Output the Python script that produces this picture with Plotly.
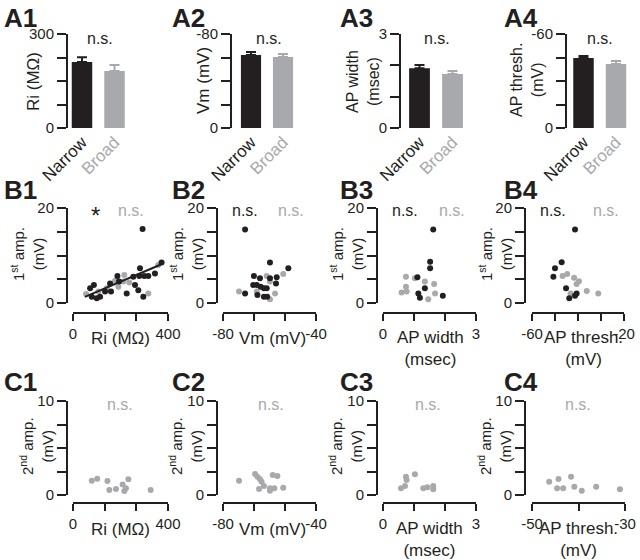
import plotly.graph_objects as go

W, H = 640, 560
BLACK = '#231f20'
GRAY = '#a7a9ac'
FONT = 'Liberation Sans, Arial, sans-serif'

# ---- A: group means (Narrow, Broad) with SEM
groups = ['Narrow', 'Broad']
ri_mean = [211, 182]
ri_sem = [15, 19]
vm_mean = [-62.1, -60.4]
vm_sem = [2.6, 2.6]
apw_mean = [1.91, 1.72]
apw_sem = [0.10, 0.10]
apt_mean = [-44.7, -40.9]
apt_sem = [1.3, 1.9]

# ---- B: 1st amp. (mV) vs cell property; narrow = black, broad = gray
b1_narrow_x = [293, 72, 88, 79, 100, 114, 135, 156, 160, 187, 194, 226, 254, 261, 275, 279, 282, 296, 300, 317, 345, 373]
b1_narrow_y = [15.6, 3.1, 3.8, 1.3, 1.0, 1.3, 2.4, 4.1, 2.4, 5.7, 4.5, 2.0, 5.5, 3.8, 2.7, 5.7, 7.3, 1.3, 5.7, 5.7, 6.2, 8.5]
b1_broad_x = [55, 107, 142, 177, 191, 212, 216, 237, 317, 359]
b1_broad_y = [1.9, 2.4, 3.1, 4.7, 3.4, 4.5, 5.9, 4.3, 2.0, 8.0]
b1_fit_x = [50, 370]
b1_fit_y = [1.3, 8.1]

b2_narrow_x = [-70.5, -70.5, -66.7, -64.1, -67.0, -65.5, -63.8, -62.4, -61.2, -65.2, -62.4, -61.0, -59.8, -59.8, -56.9, -57.2, -51.9]
b2_narrow_y = [15.5, 2.0, 5.7, 5.2, 3.8, 3.8, 3.4, 3.1, 3.1, 1.7, 1.3, 1.3, 5.2, 8.5, 5.4, 4.1, 7.3]
b2_broad_x = [-73.1, -65.5, -59.8, -57.6, -59.8, -54.1, -61.2]
b2_broad_y = [2.4, 2.4, 4.5, 2.0, 0.8, 6.1, 5.7]

b3_narrow_x = [1.62, 1.52, 1.52, 1.11, 1.35, 1.14, 1.19, 1.93]
b3_narrow_y = [15.5, 8.7, 7.3, 5.4, 3.1, 2.0, 1.1, 1.5]
b3_broad_x = [0.74, 0.74, 0.60, 0.76, 1.03, 1.35, 1.65, 1.68, 1.46]
b3_broad_y = [5.5, 3.4, 2.2, 2.4, 5.2, 4.5, 4.0, 2.0, 0.8]

b4_narrow_x = [-41.3, -47.1, -50.0, -50.7, -45.2, -43.8, -41.3, -40.6]
b4_narrow_y = [15.5, 8.6, 7.3, 5.5, 3.1, 1.0, 1.5, 2.0]
b4_broad_x = [-46.7, -44.7, -41.7, -39.6, -40.6, -36.2, -31.2, -43.2]
b4_broad_y = [5.7, 6.1, 5.3, 4.6, 4.0, 2.5, 2.0, 2.0]

# ---- C: 2nd amp. (mV), broad cells only
c1_x = [79, 102, 145, 153, 181, 209, 233, 223, 216, 327]
c1_y = [1.52, 1.74, 1.49, 0.53, 0.64, 1.13, 1.67, 0.71, 0.43, 0.53]
c2_x = [-73.1, -66.2, -65.2, -64.1, -63.4, -62.4, -64.5, -59.8, -58.6, -56.6, -57.9, -54.1, -59.8]
c2_y = [1.52, 2.23, 1.95, 1.67, 1.42, 0.96, 0.64, 0.71, 2.13, 2.02, 0.71, 0.78, 0.46]
c3_x = [0.58, 0.71, 0.74, 0.76, 1.03, 1.30, 1.43, 1.62, 1.62]
c3_y = [0.71, 0.96, 1.95, 1.60, 2.20, 0.71, 0.82, 0.96, 0.60]
c4_x = [-46.3, -44.3, -44.6, -43.3, -41.6, -40.9, -39.3, -36.2, -31.1]
c4_y = [1.42, 1.70, 0.71, 0.71, 1.95, 0.89, 0.46, 0.89, 0.60]


def X(p):
    return p / W


def Y(p):
    return 1 - p / H


tick_style = dict(showline=True, linecolor=BLACK, linewidth=2, ticks='outside', tickcolor=BLACK,
                  tickwidth=2, showgrid=False, zeroline=False, tickmode='array', automargin=False,
                  tickfont=dict(size=15, color=BLACK, family=FONT))

fig = go.Figure()
axes = {}


def axname(n, kind):
    return kind + ('' if n == 1 else str(n))


def set_axes(n, xdom, ydom, ylinex, xliney, xkw, ykw):
    axes[axname(n, 'xaxis')] = dict(domain=[X(xdom[0]), X(xdom[1])], anchor='free', position=Y(xliney), **xkw)
    axes[axname(n, 'yaxis')] = dict(domain=[Y(ydom[1]), Y(ydom[0])], anchor='free', position=X(ylinex), **ykw)


# ---- A row: bar panels
a_panels = [
    (ri_mean, ri_sem, [65.75, 130.75], 67, [0, 300], [0, 75, 150, 225, 300], ['0', '', '', '', '300']),
    (vm_mean, vm_sem, [235, 299], 231, [0, -80], [0, -20, -40, -60, -80], ['0', '', '', '', '-80']),
    (apw_mean, apw_sem, [403, 469], 400, [0, 3], [0, 1, 2, 3], ['0', '', '', '3']),
    (apt_mean, apt_sem, [567.25, 632.25], 566, [0, -60], [0, -15, -30, -45, -60], ['0', '', '', '', '-60']),
]
group_text = ['Narrow', '<span style="color:%s">Broad</span>' % GRAY]
for i, (mean, sem, xdom, ylx, yrange, tv, tt) in enumerate(a_panels):
    n = i + 1
    for g, col in zip(range(2), [BLACK, GRAY]):
        up = [sem[g]] if mean[g] >= 0 else [0]
        down = [0] if mean[g] >= 0 else [sem[g]]
        fig.add_trace(go.Bar(x=[groups[g]], y=[mean[g]], marker=dict(color=col, line=dict(width=0)),
                             error_y=dict(type='data', symmetric=False, array=up, arrayminus=down,
                                          color=col, thickness=2, width=5),
                             xaxis=axname(n, 'x'), yaxis=axname(n, 'y'), showlegend=False))
    set_axes(n, xdom, [34, 128], ylx, 128,
             dict(type='category', categoryorder='array', categoryarray=groups, showline=False, ticks='',
                  showgrid=False, zeroline=False, tickmode='array', tickvals=groups, ticktext=group_text,
                  tickangle=-45, automargin=False, tickfont=dict(size=17, color=BLACK, family=FONT)),
             dict(range=yrange, tickvals=tv, ticktext=tt, ticklen=9, **tick_style))

# ---- B and C rows: scatter panels
b_ticks = [0, 5, 10, 15, 20]
c_ticks = [0, 2.5, 5, 7.5, 10]
ri_ticks = [0, 133.33, 266.67, 400]
vm_ticks = [-80, -66.67, -53.33, -40]
apw_ticks = [0, 1, 2, 3]
col_specs = [
    (67, [73, 168], [0, 400], ri_ticks, ['0', '', '', '400']),
    (217, [223, 316], [-80, -40], vm_ticks, ['-80', '', '', '-40']),
    (377, [383, 476], [0, 3], apw_ticks, ['0', '', '', '3']),
    (525, [532, 624], [-60, -20], [-60, -50, -40, -30, -20], ['-60', '', '', '', '-20']),
]
c4_spec = (525, [532, 625], [-50, -30], [-50, -40, -30], ['-50', '', '-30'])

b_data = [
    (b1_narrow_x, b1_narrow_y, b1_broad_x, b1_broad_y),
    (b2_narrow_x, b2_narrow_y, b2_broad_x, b2_broad_y),
    (b3_narrow_x, b3_narrow_y, b3_broad_x, b3_broad_y),
    (b4_narrow_x, b4_narrow_y, b4_broad_x, b4_broad_y),
]
c_data = [(c1_x, c1_y), (c2_x, c2_y), (c3_x, c3_y), (c4_x, c4_y)]

for i in range(4):
    n = 5 + i
    nx, ny, bx, by = b_data[i]
    fig.add_trace(go.Scatter(x=bx, y=by, mode='markers', marker=dict(color=GRAY, size=6),
                             cliponaxis=False, xaxis=axname(n, 'x'), yaxis=axname(n, 'y'), showlegend=False))
    fig.add_trace(go.Scatter(x=nx, y=ny, mode='markers', marker=dict(color=BLACK, size=6),
                             cliponaxis=False, xaxis=axname(n, 'x'), yaxis=axname(n, 'y'), showlegend=False))
    if i == 0:
        fig.add_trace(go.Scatter(x=b1_fit_x, y=b1_fit_y, mode='lines', line=dict(color=BLACK, width=2),
                                 xaxis=axname(n, 'x'), yaxis=axname(n, 'y'), showlegend=False))
    ylx, xdom, xr, tv, tt = col_specs[i]
    set_axes(n, xdom, [208, 303], ylx, 313,
             dict(range=xr, tickvals=tv, ticktext=tt, ticklen=7, **tick_style),
             dict(range=[0, 20], tickvals=b_ticks, ticktext=['0', '', '', '', '20'], ticklen=9, **tick_style))

for i in range(4):
    n = 9 + i
    cx, cy = c_data[i]
    fig.add_trace(go.Scatter(x=cx, y=cy, mode='markers', marker=dict(color=GRAY, size=6),
                             cliponaxis=False, xaxis=axname(n, 'x'), yaxis=axname(n, 'y'), showlegend=False))
    ylx, xdom, xr, tv, tt = c4_spec if i == 3 else col_specs[i]
    set_axes(n, xdom, [401, 495], ylx, 503,
             dict(range=xr, tickvals=tv, ticktext=tt, ticklen=7, **tick_style),
             dict(range=[0, 10], tickvals=c_ticks, ticktext=['0', '', '', '', '10'], ticklen=9, **tick_style))


# ---- text
notes = []


def note(text, x, y, size, color=BLACK, angle=0, bold=False, xanchor='center'):
    notes.append(dict(text='<b>%s</b>' % text if bold else text, x=X(x), y=Y(y), xref='paper', yref='paper',
                      showarrow=False, textangle=angle, xanchor=xanchor, yanchor='middle',
                      font=dict(size=size, color=color, family=FONT)))


panel_labels = [('A1', 2, 18), ('A2', 170, 18), ('A3', 338, 18), ('A4', 502, 18),
                ('B1', 2, 190), ('B2', 170, 190), ('B3', 338, 190), ('B4', 502, 190),
                ('C1', 2, 382), ('C2', 170, 382), ('C3', 338, 382), ('C4', 502, 382)]
for t, x, y in panel_labels:
    note(t, x, y, 26, bold=True, xanchor='left')

for x in [100, 269, 437, 600]:
    note('n.s.', x, 39, 16)
note('*', 95, 216, 24)
note('n.s.', 131, 210, 16, GRAY)
for xb, xg in [(245, 291), (405, 452), (553, 606)]:
    note('n.s.', xb, 210, 16)
    note('n.s.', xg, 210, 16, GRAY)
for x in [120, 271, 428, 578]:
    note('n.s.', x, 404, 16, GRAY)

# y titles
note('Ri (MΩ)', 33, 82, 17, angle=-90)
note('Vm (mV)', 203, 81, 17, angle=-90)
note('AP width<br>(msec)', 363, 82, 16, angle=-90)
note('AP thresh.<br>(mV)', 527, 80, 16, angle=-90)
for x in [28, 187, 347, 496]:
    note('1<sup>st</sup> amp.<br>(mV)', x, 254, 15, angle=-90)
for x in [37, 186, 346, 495]:
    note('2<sup>nd</sup> amp.<br>(mV)', x, 446, 15, angle=-90)

# x titles
for y0 in [338, 529]:
    note('Ri (MΩ)', 120, y0, 17)
    note('Vm (mV)', 272, y0, 17)
note('AP width<br>(msec)', 430, 348, 17)
note('AP thresh.<br>(mV)', 583, 348, 17)
note('AP width<br>(msec)', 429, 539, 17)
note('AP thresh.<br>(mV)', 578, 539, 17)

fig.update_layout(width=W, height=H, margin=dict(l=0, r=0, t=0, b=0, autoexpand=False), paper_bgcolor='white',
                  plot_bgcolor='white', barmode='overlay', bargap=0.37, annotations=notes,
                  font=dict(family=FONT, color=BLACK), **axes)

fig.write_html("out.html", config={'displayModeBar': False},
               post_script="document.body.style.margin='0';")
